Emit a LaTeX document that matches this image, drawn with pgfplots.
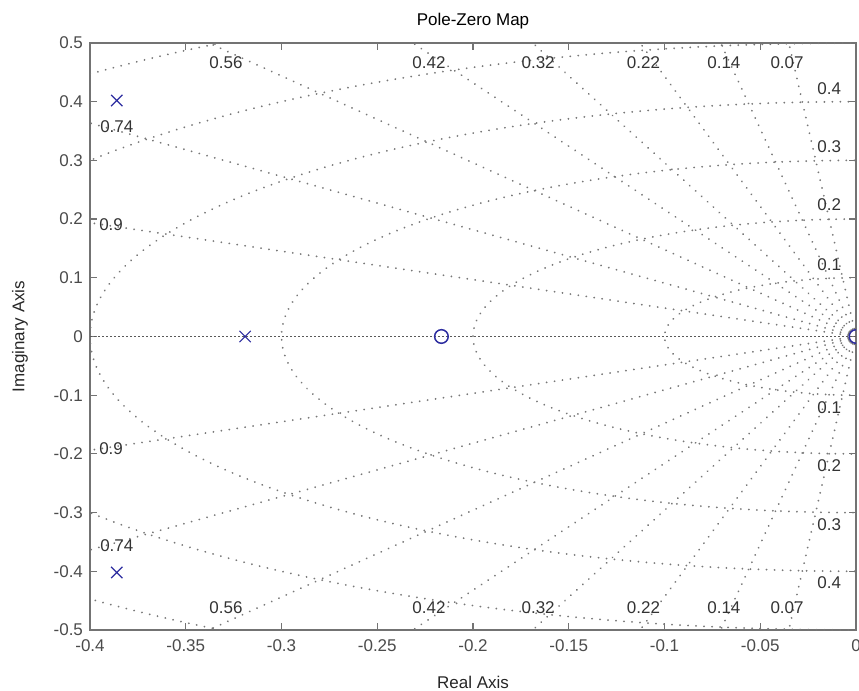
\documentclass[border=0pt]{standalone}
\usepackage{pgfplots}
\pgfplotsset{compat=1.18}
\usepackage{fontspec}
\setmainfont{Liberation Sans}
\definecolor{gridc}{RGB}{120,120,120}
\definecolor{mk}{RGB}{45,45,160}
\definecolor{axc}{RGB}{115,115,115}
\definecolor{tl}{RGB}{75,75,75}
\tikzset{sg/.style={gridc, line width=1pt, line cap=round, dash pattern=on 0.01pt off 4pt},
  lab/.style={font=\fontsize{8.5}{10}\selectfont, text=black!80, inner sep=0.5pt}}
\begin{document}
\begin{tikzpicture}
\begin{axis}[
  width=383pt, height=293.5pt, scale only axis,
  xmin=-0.4, xmax=0, ymin=-0.5, ymax=0.5,
  xtick={-0.4,-0.35,-0.3,-0.25,-0.2,-0.15,-0.1,-0.05,0},
  xticklabels={-0.4,-0.35,-0.3,-0.25,-0.2,-0.15,-0.1,-0.05,0},
  ytick={-0.5,-0.4,-0.3,-0.2,-0.1,0,0.1,0.2,0.3,0.4,0.5},
  yticklabels={-0.5,-0.4,-0.3,-0.2,-0.1,0,0.1,0.2,0.3,0.4,0.5},
  tick align=inside, major tick length=3.5pt,
  axis line style={axc, line width=0.6pt},
  tick style={axc, line width=0.6pt},
  every tick label/.append style={font=\fontsize{8.5}{10}\selectfont, text=tl},
  xticklabel style={yshift=-1.5pt},
  xlabel={Real Axis},
  xlabel style={at={(axis description cs:0.5,-0.0886)}, anchor=center, font=\fontsize{8.5}{10}\selectfont, text=black!85},
  ylabel={Imaginary Axis},
  ylabel style={at={(axis description cs:-0.0914,0.5)}, anchor=center, font=\fontsize{8.5}{10}\selectfont, text=black!85},
  clip marker paths=true,
]
% s-plane grid: damping rays
\addplot[sg, forget plot] coordinates {(0,0) (-0.07,0.99755)};
\addplot[sg, forget plot] coordinates {(0,0) (-0.14,0.99015)};
\addplot[sg, forget plot] coordinates {(0,0) (-0.22,0.97550)};
\addplot[sg, forget plot] coordinates {(0,0) (-0.32,0.94742)};
\addplot[sg, forget plot] coordinates {(0,0) (-0.42,0.90752)};
\addplot[sg, forget plot] coordinates {(0,0) (-0.56,0.82849)};
\addplot[sg, forget plot] coordinates {(0,0) (-0.74,0.67261)};
\addplot[sg, forget plot] coordinates {(0,0) (-0.90,0.43589)};
\addplot[sg, forget plot] coordinates {(0,0) (-0.07,-0.99755)};
\addplot[sg, forget plot] coordinates {(0,0) (-0.14,-0.99015)};
\addplot[sg, forget plot] coordinates {(0,0) (-0.22,-0.97550)};
\addplot[sg, forget plot] coordinates {(0,0) (-0.32,-0.94742)};
\addplot[sg, forget plot] coordinates {(0,0) (-0.42,-0.90752)};
\addplot[sg, forget plot] coordinates {(0,0) (-0.56,-0.82849)};
\addplot[sg, forget plot] coordinates {(0,0) (-0.74,-0.67261)};
\addplot[sg, forget plot] coordinates {(0,0) (-0.90,-0.43589)};
% natural frequency circles
\draw[sg] (axis cs:0,0) ellipse [x radius=0.1, y radius=0.1];
\draw[sg] (axis cs:0,0) ellipse [x radius=0.2, y radius=0.2];
\draw[sg] (axis cs:0,0) ellipse [x radius=0.3, y radius=0.3];
\draw[sg] (axis cs:0,0) ellipse [x radius=0.4, y radius=0.4];
\draw[sg] (axis cs:0,0) ellipse [x radius=0.5, y radius=0.5];
\draw[sg] (axis cs:0,0) ellipse [x radius=0.6, y radius=0.6];
% real axis
\addplot[black!65, line width=0.6pt, dash pattern=on 1pt off 1pt, forget plot] coordinates {(-0.4,0) (0,0)};
% labels
\node[lab] at (axis cs:-0.329,0.466) {0.56};
\node[lab] at (axis cs:-0.223,0.466) {0.42};
\node[lab] at (axis cs:-0.166,0.466) {0.32};
\node[lab] at (axis cs:-0.111,0.466) {0.22};
\node[lab] at (axis cs:-0.069,0.466) {0.14};
\node[lab] at (axis cs:-0.036,0.466) {0.07};
\node[lab] at (axis cs:-0.329,-0.462) {0.56};
\node[lab] at (axis cs:-0.223,-0.462) {0.42};
\node[lab] at (axis cs:-0.166,-0.462) {0.32};
\node[lab] at (axis cs:-0.111,-0.462) {0.22};
\node[lab] at (axis cs:-0.069,-0.462) {0.14};
\node[lab] at (axis cs:-0.036,-0.462) {0.07};
\node[lab] at (axis cs:-0.386,0.358) {0.74};
\node[lab] at (axis cs:-0.386,-0.357) {0.74};
\node[lab] at (axis cs:-0.389,0.191) {0.9};
\node[lab] at (axis cs:-0.389,-0.191) {0.9};
\node[lab] at (axis cs:-0.014,0.123) {0.1};
\node[lab] at (axis cs:-0.014,0.224) {0.2};
\node[lab] at (axis cs:-0.014,0.324) {0.3};
\node[lab] at (axis cs:-0.014,0.423) {0.4};
\node[lab] at (axis cs:-0.014,-0.121) {0.1};
\node[lab] at (axis cs:-0.014,-0.220) {0.2};
\node[lab] at (axis cs:-0.014,-0.320) {0.3};
\node[lab] at (axis cs:-0.014,-0.419) {0.4};
% poles and zeros
\addplot[only marks, mark=x, mark size=4pt, mk, line width=0.6pt] coordinates {(-0.386,0.402) (-0.386,-0.402) (-0.319,0)};
\addplot[only marks, mark=o, mark size=3.4pt, mk, line width=0.75pt] coordinates {(-0.2165,0) (0,0)};
\coordinate (sw) at (rel axis cs:0,0);
\coordinate (ne) at (rel axis cs:1,1);
\coordinate (nt) at (rel axis cs:0.5,1);
\end{axis}
\node[font=\fontsize{8.5}{10}\selectfont, text=black, anchor=center] at ([yshift=11pt]nt) {Pole-Zero Map};
\pgfresetboundingbox
\path[use as bounding box] ([xshift=-45pt,yshift=-30pt]sw) rectangle ([xshift=1.5pt,yshift=21.5pt]ne);
\end{tikzpicture}
\end{document}
